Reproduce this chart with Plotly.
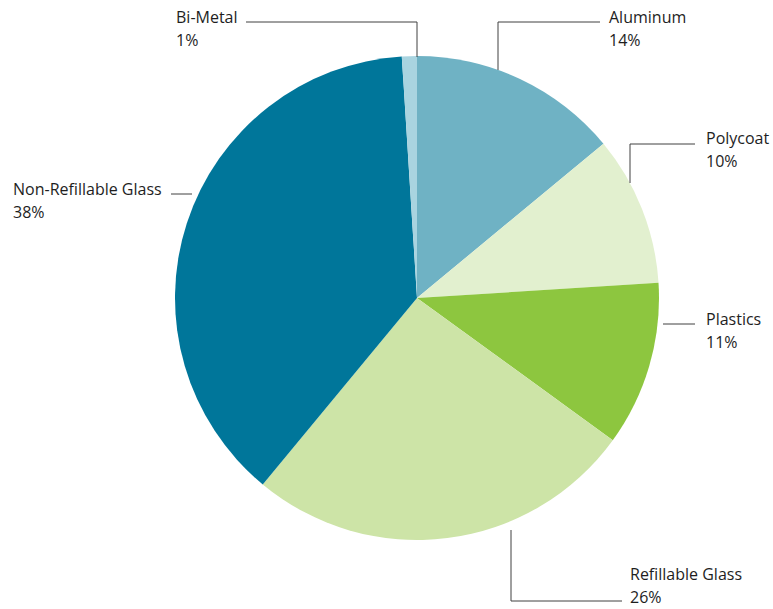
import plotly.graph_objects as go

# Beverage container material shares
materials = ["Aluminum", "Polycoat", "Plastics", "Refillable Glass",
             "Non-Refillable Glass", "Bi-Metal"]
shares = [14, 10, 11, 26, 38, 1]
colors = ["#6FB2C4", "#E2F0CF", "#8DC63F", "#CDE4A7", "#00769A", "#A9D4E0"]

W, H = 773, 609
CX, CY, R = 417, 298, 242  # pie centre and radius in pixels

# label text origin (left edge, centre of first line) and leader polyline, in pixels
label_pos = {
    "Aluminum": (608, 17),
    "Polycoat": (705, 138),
    "Plastics": (705, 319),
    "Refillable Glass": (629, 574),
    "Non-Refillable Glass": (12, 189),
    "Bi-Metal": (175, 17),
}
leaders = {
    "Aluminum": [(600, 22), (498, 22), (498, 70)],
    "Polycoat": [(695, 144), (630, 144), (630, 183)],
    "Plastics": [(695, 324), (663, 324)],
    "Refillable Glass": [(622, 601), (511, 601), (511, 530)],
    "Non-Refillable Glass": [(171, 194), (192, 194)],
    "Bi-Metal": [(246, 22), (417, 22), (417, 57)],
}


def px(x):
    return x / W


def py(y):
    return 1 - y / H


fig = go.Figure(go.Pie(
    labels=materials,
    values=shares,
    sort=False,
    direction="clockwise",
    rotation=0,
    marker=dict(colors=colors, line=dict(width=0)),
    textinfo="none",
    hoverinfo="label+percent",
    domain=dict(x=[px(CX - R), px(CX + R)], y=[py(CY + R), py(CY - R)]),
))

font = dict(family="Open Sans, sans-serif", size=16, color="#1e1e1e")
annotations = []
shapes = []
for name, val in zip(materials, shares):
    lx, ly = label_pos[name]
    for i, txt in enumerate([name, f"{val}%"]):
        annotations.append(dict(
            x=px(lx), y=py(ly + i * 23), xref="paper", yref="paper",
            text=txt, showarrow=False, xanchor="left", yanchor="middle",
            align="left", font=font, borderpad=0,
        ))
    pts = leaders[name]
    path = "M " + " L ".join(f"{px(x)},{py(y)}" for x, y in pts)
    shapes.append(dict(type="path", xref="paper", yref="paper", path=path,
                       line=dict(color="#404040", width=1)))

fig.update_layout(
    width=W, height=H,
    margin=dict(l=0, r=0, t=0, b=0),
    paper_bgcolor="white",
    plot_bgcolor="white",
    showlegend=False,
    annotations=annotations,
    shapes=shapes,
)

fig.write_html("out.html")
